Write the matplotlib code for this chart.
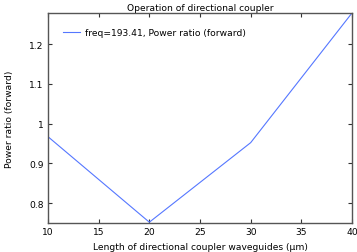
import numpy as np
import matplotlib.pyplot as plt

# Length of directional coupler waveguides (um) vs power ratio (forward)
length = [10, 20, 30, 40]
ratio = [0.967, 0.752, 0.952, 1.278]

fs = 6.6
fig = plt.figure(figsize=(3.57, 2.53), dpi=100)
ax = fig.add_axes([48/357, 1 - 224/253, (352-48)/357, (224-14)/253])

ax.plot(length, ratio, color='#5577ff', lw=0.8, label='freq=193.41, Power ratio (forward)')
ax.set_xlim(10, 40)
ax.set_ylim(0.75, 1.278)
ax.set_xticks([10, 15, 20, 25, 30, 35, 40])
ax.set_yticks([0.8, 0.9, 1, 1.1, 1.2])
ax.set_yticklabels(['0.8', '0.9', '1', '1.1', '1.2'])
ax.tick_params(direction='in', top=True, right=True, labelsize=fs, length=3, width=0.8,
               color='#333333', pad=3)
for s in ax.spines.values():
    s.set_color('#555555')
    s.set_linewidth(1.0)

ax.set_xlabel('Length of directional coupler waveguides (µm)', fontsize=fs, labelpad=4)
ax.set_ylabel('Power ratio (forward)', fontsize=fs, labelpad=11)
ax.set_title('Operation of directional coupler', fontsize=fs, pad=2.5)
ax.legend(loc='upper left', frameon=False, fontsize=fs, handlelength=1.9, handletextpad=0.5,
          borderpad=0, borderaxespad=0, bbox_to_anchor=(15/304, 1 - 15/210))

fig.savefig('out.png', dpi=100)
